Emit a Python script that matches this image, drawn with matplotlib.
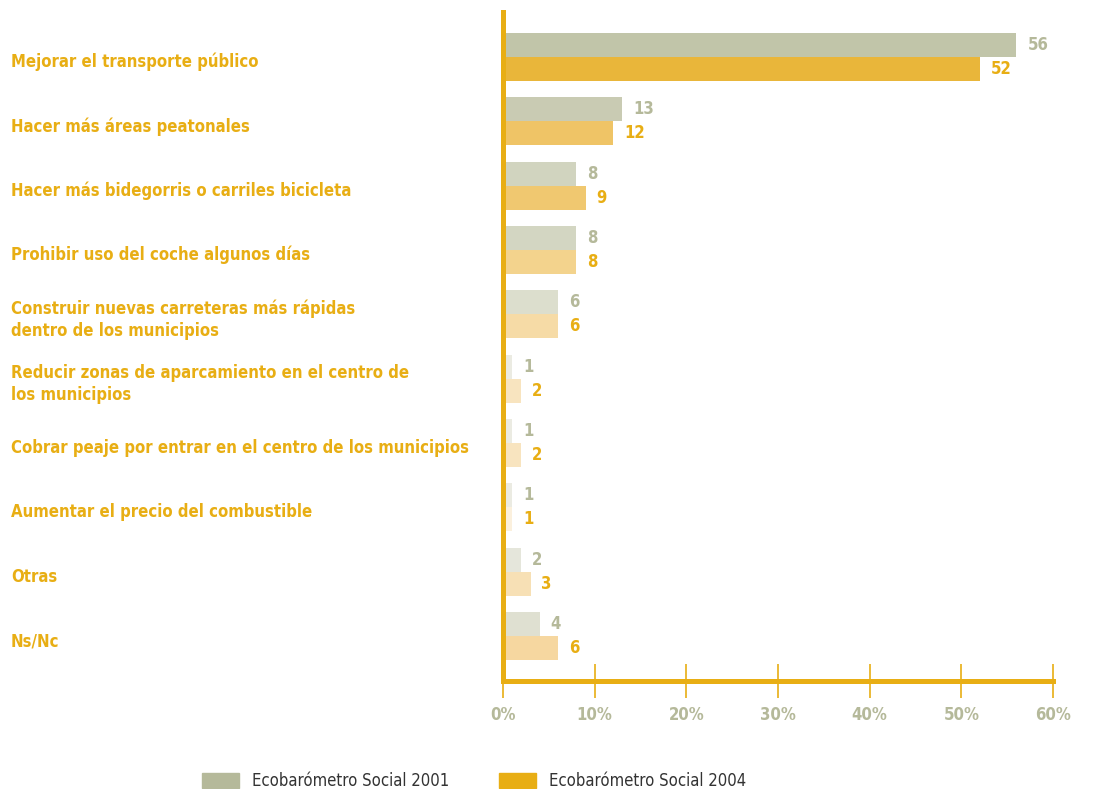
import numpy as np
import matplotlib.pyplot as plt
from matplotlib.patches import Patch

# Data ----------------------------------------------------------------------------------------
categories = [
    "Mejorar el transporte público",
    "Hacer más áreas peatonales",
    "Hacer más bidegorris o carriles bicicleta",
    "Prohibir uso del coche algunos días",
    "Construir nuevas carreteras más rápidas\ndentro de los municipios",
    "Reducir zonas de aparcamiento en el centro de\nlos municipios",
    "Cobrar peaje por entrar en el centro de los municipios",
    "Aumentar el precio del combustible",
    "Otras",
    "Ns/Nc",
]
vals_2001 = [56, 13, 8, 8, 6, 1, 1, 1, 2, 4]
vals_2004 = [52, 12, 9, 8, 6, 2, 2, 1, 3, 6]
xticks = [0, 10, 20, 30, 40, 50, 60]
series_names = ["Ecobarómetro Social 2001", "Ecobarómetro Social 2004"]

# Aesthetics ----------------------------------------------------------------------------------
gold = '#e8ae14'
grey = '#b5b99a'
cols_2001 = ['#c1c5a9', '#c9cbb3', '#d1d4bf', '#d3d6c2', '#dcdecd',
             '#ebebe2', '#ebebe2', '#ebebe2', '#e5e6db', '#dfe0d1']
cols_2004 = ['#e9b63a', '#efc466', '#f0c870', '#f3d38d', '#f6dba6',
             '#f8e4bf', '#f8e4bf', '#fbf0dd', '#f7e0b5', '#f6d7a0']

plt.rcParams['font.family'] = ['DejaVu Sans']
plt.rcParams['font.stretch'] = 'condensed'

fig = plt.figure(figsize=(10.93, 7.89), dpi=100)
ax = fig.add_axes([503/1093, 1-681/789, 550/1093, (681-12)/789])

y = np.arange(len(categories))
h = 0.373
ax.barh(y - h/2, vals_2001, height=h, color=cols_2001)
ax.barh(y + h/2, vals_2004, height=h, color=cols_2004)

for i in range(len(categories)):
    ax.text(vals_2001[i] + 1.2, y[i] - h/2, str(vals_2001[i]), color=grey,
            fontsize=12, fontweight='bold', va='center', ha='left')
    ax.text(vals_2004[i] + 1.2, y[i] + h/2, str(vals_2004[i]), color=gold,
            fontsize=12, fontweight='bold', va='center', ha='left')
    ax.text(-0.8945, y[i] + 0.08, categories[i], transform=ax.get_yaxis_transform(),
            color=gold, fontsize=12, fontweight='bold', va='center', ha='left',
            linespacing=1.3)

ax.set_xlim(0, 60)
ax.set_ylim(9.70, -0.70)
for s in ['top', 'right']:
    ax.spines[s].set_visible(False)
for s in ['left', 'bottom']:
    ax.spines[s].set_color(gold)
    ax.spines[s].set_linewidth(3.6)
ax.set_yticks([])
ax.set_xticks(xticks)
ax.set_xticklabels([f"{t}%" for t in xticks])
ax.tick_params(axis='x', direction='inout', length=24, width=1.2, color=gold,
               labelcolor=grey, labelsize=12, pad=6)
for lab in ax.get_xticklabels():
    lab.set_fontweight('bold')

handles = [Patch(color='#b5b99a'), Patch(color=gold)]
fig.legend(handles, series_names, loc='lower left', bbox_to_anchor=(187/1093, -0.02),
           ncol=2, frameon=False, fontsize=12, handlelength=2.2, handleheight=1.0,
           handletextpad=0.8, columnspacing=3.0, labelcolor='#333333')

fig.savefig('out.png', dpi=100, facecolor='white')
